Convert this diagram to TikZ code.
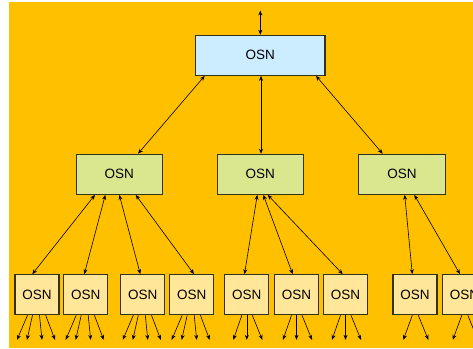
\documentclass[tikz,border=0pt]{standalone}
\usepackage{fontspec}
\setmainfont{Liberation Sans}
\usetikzlibrary{arrows.meta,calc}
\definecolor{bgorange}{RGB}{255,192,0}
\definecolor{topfill}{RGB}{204,236,255}
\definecolor{midfill}{RGB}{218,231,143}
\definecolor{leaffill}{RGB}{255,230,153}
\definecolor{edge}{RGB}{50,50,30}
\tikzset{
  osnbox/.style={draw=edge, line width=1.1pt, minimum height=40pt, inner sep=0pt,
    font=\fontsize{13.5}{16}\selectfont},
  topbox/.style={osnbox, fill=topfill, minimum width=129.3pt},
  midbox/.style={osnbox, fill=midfill, minimum width=86.3pt},
  leafbox/.style={osnbox, fill=leaffill, minimum width=44pt},
  link/.style={line width=0.6pt, {Stealth[length=5pt,width=4pt]}-{Stealth[length=5pt,width=4pt]}},
  outlink/.style={line width=0.6pt, -{Stealth[length=5pt,width=4pt]}}
}
\begin{document}
\begin{tikzpicture}[x=1pt, y=-1pt]
  \useasboundingbox (0,0) rectangle (473,348);
  \clip (0,0) rectangle (473,348);
  \fill[white] (0,0) rectangle (473,348);
  \fill[bgorange] (9,2) rectangle (473,348);

  % root
  \node[topbox] (root) at (260.3,55.3) {OSN};
  \coordinate (up) at (260.3,10.5);
  \draw[link] (up) -- (root.north);

  % second level
  \node[midbox] (mA) at (119.2,174.3) {OSN};
  \node[midbox] (mB) at (260.3,174.3) {OSN};
  \node[midbox] (mC) at (402,174.3) {OSN};

  \draw[link] ([xshift=-55.6]root.south) -- ([xshift=18.8]mA.north);
  \draw[link] ([xshift=0.7]root.south) -- ([xshift=0.7]mB.north);
  \draw[link] ([xshift=55.7]root.south) -- ([xshift=-19.3]mC.north);

  % leaves
  \foreach \n/\x in {1/37,2/85.7,3/142.8,4/191.7,5/246.8,6/296.5,7/345.5,8/415,9/464.5}
    \node[leafbox] (b\n) at (\x,294.7) {OSN};

  \draw[link] ([xshift=-24.2]mA.south) -- ([xshift=-4.7]b1.north);
  \draw[link] ([xshift=-13.9]mA.south) -- ([xshift=-1.4]b2.north);
  \draw[link] ([xshift=0.1]mA.south) -- ([xshift=-2.5]b3.north);
  \draw[link] ([xshift=16.5]mA.south) -- ([xshift=2.3]b4.north);

  \draw[link] ([xshift=-3]mB.south) -- ([xshift=-2.3]b5.north);
  \draw[link] ([xshift=3]mB.south) -- ([xshift=-3.8]b6.north);
  \draw[link] ([xshift=7.4]mB.south) -- ([xshift=-2.8]b7.north);

  \draw[link] ([xshift=2.7]mC.south) -- ([xshift=-2.7]b8.north);
  \draw[link] ([xshift=12.3]mC.south) -- ([xshift=-4.5]b9.north);

  % outgoing links below the leaves
  \foreach \n in {1,2,3,4}{
    \draw[outlink] ([xshift=-9.5]b\n.south) -- ([xshift=-20,yshift=-24.6]b\n.south);
    \draw[outlink] ([xshift=-4.5]b\n.south) -- ([xshift=-10,yshift=-24.6]b\n.south);
    \draw[outlink] ([xshift=2.5]b\n.south) -- ([xshift=5,yshift=-24.6]b\n.south);
    \draw[outlink] ([xshift=8.7]b\n.south) -- ([xshift=18,yshift=-24.6]b\n.south);
  }
  \foreach \n in {5,6,7}{
    \draw[outlink] ([xshift=-5]b\n.south) -- ([xshift=-13.5,yshift=-24.6]b\n.south);
    \draw[outlink] (b\n.south) -- ([yshift=-24.6]b\n.south);
    \draw[outlink] ([xshift=5.5]b\n.south) -- ([xshift=15.5,yshift=-24.6]b\n.south);
  }
  \foreach \n in {8,9}{
    \draw[outlink] ([xshift=-2.7]b\n.south) -- ([xshift=-11.7,yshift=-24.6]b\n.south);
    \draw[outlink] ([xshift=3.3]b\n.south) -- ([xshift=13.3,yshift=-24.6]b\n.south);
  }
\end{tikzpicture}
\end{document}
